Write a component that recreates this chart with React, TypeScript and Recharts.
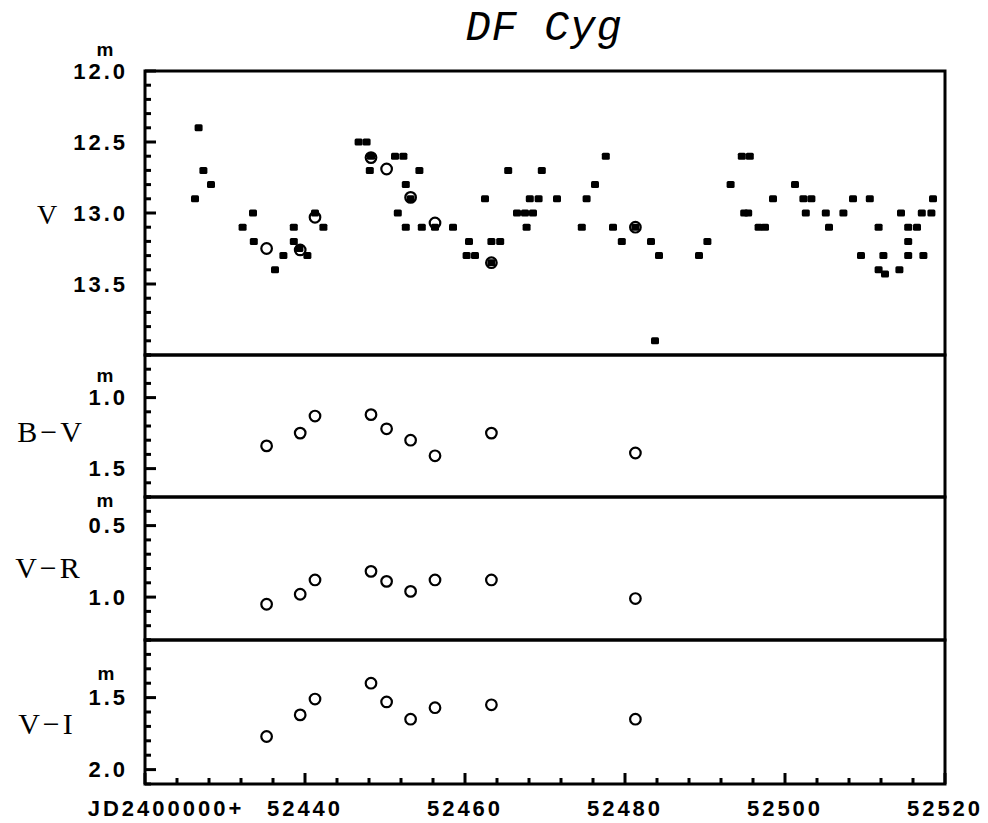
import { ScatterChart, Scatter, XAxis, YAxis, ReferenceArea } from "recharts"

// visual V estimates (filled squares)
const vJd = [
  52426.25, 52426.7, 52427.3, 52428.25, 52432.2, 52433.5, 52433.6, 52436.25, 52437.3, 52438.6,
  52438.6, 52439.3, 52440.3, 52441.25, 52442.3, 52446.7, 52447.7, 52448.25, 52448.1, 52451.25,
  52452.3, 52452.6, 52453.2, 52451.6, 52452.6, 52454.3, 52454.6, 52456.25, 52458.5, 52460.5,
  52460.2, 52461.25, 52462.5, 52463.3, 52464.4, 52463.3, 52465.4, 52466.5, 52467.5, 52468.5,
  52467.7, 52468.1, 52469.2, 52469.6, 52471.5, 52474.6, 52475.2, 52476.25, 52477.6, 52478.5,
  52479.6, 52481.3, 52483.25, 52483.75, 52484.25, 52489.25, 52490.3, 52493.2, 52494.6, 52495.6,
  52494.9, 52495.4, 52496.7, 52497.5, 52498.5, 52501.25, 52502.3, 52503.3, 52502.6, 52505.1,
  52505.5, 52507.3, 52508.5, 52509.5, 52510.6, 52511.7, 52511.7, 52512.3, 52512.5, 52514.3,
  52514.5, 52515.4, 52515.4, 52515.4, 52516.5, 52517.1, 52517.3, 52518.3, 52518.5,
]
const vMag = [
  12.9, 12.4, 12.7, 12.8, 13.1, 13.0, 13.2, 13.4, 13.3, 13.1,
  13.2, 13.25, 13.3, 13.0, 13.1, 12.5, 12.5, 12.6, 12.7, 12.6,
  12.6, 12.8, 12.9, 13.0, 13.1, 12.7, 13.1, 13.1, 13.1, 13.2,
  13.3, 13.3, 12.9, 13.2, 13.2, 13.35, 12.7, 13.0, 13.0, 13.0,
  13.1, 12.9, 12.9, 12.7, 12.9, 13.1, 12.9, 12.8, 12.6, 13.1,
  13.2, 13.1, 13.2, 13.9, 13.3, 13.3, 13.2, 12.8, 12.6, 12.6,
  13.0, 13.0, 13.1, 13.1, 12.9, 12.8, 12.9, 12.9, 13.0, 13.0,
  13.1, 13.0, 12.9, 13.3, 12.9, 13.1, 13.4, 13.3, 13.43, 13.4,
  13.0, 13.1, 13.2, 13.3, 13.1, 13.0, 13.3, 13.0, 12.9,
]

// photoelectric nights (open circles)
const photJd = [52435.2, 52439.4, 52441.25, 52448.25, 52450.2, 52453.2, 52456.25, 52463.3, 52481.3]
const photV = [13.25, 13.26, 13.03, 12.61, 12.69, 12.89, 13.07, 13.35, 13.1]
const bvMag = [1.34, 1.25, 1.13, 1.12, 1.22, 1.3, 1.41, 1.25, 1.39]
const vrMag = [1.05, 0.98, 0.88, 0.82, 0.89, 0.96, 0.88, 0.88, 1.01]
const viMag = [1.77, 1.62, 1.51, 1.4, 1.53, 1.65, 1.57, 1.55, 1.65]

const xTicks = [
  52420, 52424, 52428, 52432, 52436, 52440, 52444, 52448, 52452, 52456, 52460, 52464, 52468,
  52472, 52476, 52480, 52484, 52488, 52492, 52496, 52500, 52504, 52508, 52512, 52516, 52520,
]
const xMajor = [52420, 52440, 52460, 52480, 52500, 52520]
const xLabels = ["JD2400000+", "52440", "52460", "52480", "52500", "52520"]

const vTicks = [
  12.0, 12.1, 12.2, 12.3, 12.4, 12.5, 12.6, 12.7, 12.8, 12.9, 13.0,
  13.1, 13.2, 13.3, 13.4, 13.5, 13.6, 13.7, 13.8, 13.9, 14.0,
]
const vMajor = [12.0, 12.5, 13.0, 13.5]
const vLabels = ["12.0", "12.5", "13.0", "13.5"]

const bvTicks = [0.7, 0.8, 0.9, 1.0, 1.1, 1.2, 1.3, 1.4, 1.5, 1.6, 1.7]
const bvMajor = [1.0, 1.5]
const bvLabels = ["1.0", "1.5"]

const vrTicks = [0.3, 0.4, 0.5, 0.6, 0.7, 0.8, 0.9, 1.0, 1.1, 1.2, 1.3]
const vrMajor = [0.5, 1.0]
const vrLabels = ["0.5", "1.0"]

const viTicks = [1.1, 1.2, 1.3, 1.4, 1.5, 1.6, 1.7, 1.8, 1.9, 2.0, 2.1]
const viMajor = [1.5, 2.0]
const viLabels = ["1.5", "2.0"]

const W = 988
const H = 823
const sans = "'Liberation Sans', Arial, sans-serif"
const serif = "'Liberation Serif', 'Times New Roman', serif"
const tickFont = { fontFamily: sans, fontWeight: 700, fontSize: 22, letterSpacing: 3 }

const pts = (xs: number[], ys: number[]) => xs.map((x, i) => ({ x, y: ys[i] }))

const Filled = (p: any) => <rect x={p.cx - 4} y={p.cy - 3.5} width={8} height={7} rx={1.5} fill="#000" />
const Open = (p: any) => (
  <circle cx={p.cx} cy={p.cy} r={5.3} fill="none" stroke="#000" strokeWidth={2.2} />
)

function makeTick(side: string, major: number[], labels?: string[]) {
  return (props: any) => {
    const { x, y, payload } = props
    const idx = major.findIndex((m) => Math.abs(m - payload.value) < 1e-6)
    const len = idx >= 0 ? 11 : 6
    let x2 = x
    let y2 = y
    if (side === "left") x2 = x + len
    if (side === "right") x2 = x - len
    if (side === "top") y2 = y + len
    if (side === "bottom") y2 = y - len
    let label = null
    if (labels && idx >= 0) {
      if (side === "left") {
        label = (
          <text x={x - 17} y={y} textAnchor="end" dominantBaseline="central" fill="#000" style={tickFont}>
            {labels[idx]}
          </text>
        )
      } else if (side === "bottom") {
        label = (
          <text x={idx === 0 ? x + 21 : x} y={y + 24} textAnchor="middle" dominantBaseline="central" fill="#000" style={tickFont}>
            {labels[idx]}
          </text>
        )
      }
    }
    return (
      <g>
        <line x1={x} y1={y} x2={x2} y2={y2} stroke="#000" strokeWidth={3} />
        {label}
      </g>
    )
  }
}

type PanelProps = {
  top: number
  bottom: number
  domain: [number, number]
  ticks: number[]
  major: number[]
  labels: string[]
  filled?: { x: number; y: number }[]
  open: { x: number; y: number }[]
  topAxis?: boolean
  bottomAxis?: boolean
}

function Panel(p: PanelProps) {
  const margin = {
    top: p.topAxis ? p.top - 10 : p.top,
    bottom: p.bottomAxis ? H - p.bottom - 40 : H - p.bottom,
    left: 85,
    right: 3,
  }
  return (
    <div style={{ position: "absolute", left: 0, top: 0 }}>
      <ScatterChart width={W} height={H} margin={margin}>
        <XAxis
          dataKey="x"
          type="number"
          domain={[52420, 52520]}
          ticks={xTicks}
          interval={0}
          hide={!p.bottomAxis}
          height={40}
          axisLine={false}
          tickLine={false}
          tickSize={0}
          tickMargin={0}
          tick={makeTick("bottom", xMajor, xLabels)}
        />
        {p.topAxis && (
          <XAxis
            xAxisId="t"
            orientation="top"
            dataKey="x"
            type="number"
            domain={[52420, 52520]}
            ticks={xTicks}
            interval={0}
            height={10}
            axisLine={false}
            tickLine={false}
            tickSize={0}
            tickMargin={0}
            tick={makeTick("top", xMajor)}
          />
        )}
        <YAxis
          dataKey="y"
          type="number"
          domain={p.domain}
          reversed
          ticks={p.ticks}
          interval={0}
          width={60}
          axisLine={false}
          tickLine={false}
          tickSize={0}
          tickMargin={0}
          tick={makeTick("left", p.major, p.labels)}
        />
        <YAxis
          yAxisId="r"
          orientation="right"
          dataKey="y"
          type="number"
          domain={p.domain}
          reversed
          ticks={p.ticks}
          interval={0}
          width={40}
          axisLine={false}
          tickLine={false}
          tickSize={0}
          tickMargin={0}
          tick={makeTick("right", p.major)}
        />
        <ReferenceArea
          x1={52420}
          x2={52520}
          y1={p.domain[0]}
          y2={p.domain[1]}
          fill="none"
          fillOpacity={0}
          stroke="#000"
          strokeWidth={3}
          ifOverflow="visible"
        />
        {p.filled && <Scatter data={p.filled} shape={Filled} isAnimationActive={false} />}
        <Scatter data={p.open} shape={Open} isAnimationActive={false} />
      </ScatterChart>
    </div>
  )
}

export default function App() {
  const lab = { fontFamily: serif, fontSize: 30, fill: "#000" }
  const m = { fontFamily: sans, fontWeight: 700, fontSize: 19, fill: "#000" }
  return (
    <div style={{ position: "absolute", left: 0, top: 0, width: W, height: H, background: "#fff" }}>
      <Panel
        top={71}
        bottom={355}
        domain={[12, 14]}
        ticks={vTicks}
        major={vMajor}
        labels={vLabels}
        filled={pts(vJd, vMag)}
        open={pts(photJd, photV)}
        topAxis
      />
      <Panel top={355} bottom={497} domain={[0.7, 1.7]} ticks={bvTicks} major={bvMajor} labels={bvLabels} open={pts(photJd, bvMag)} />
      <Panel top={497} bottom={640} domain={[0.3, 1.3]} ticks={vrTicks} major={vrMajor} labels={vrLabels} open={pts(photJd, vrMag)} />
      <Panel
        top={640}
        bottom={784}
        domain={[1.1, 2.1]}
        ticks={viTicks}
        major={viMajor}
        labels={viLabels}
        open={pts(photJd, viMag)}
        bottomAxis
      />
      <svg width={W} height={H} style={{ position: "absolute", left: 0, top: 0, pointerEvents: "none" }}>
        <text
          x={544}
          y={40}
          textAnchor="middle"
          style={{ fontFamily: "'Liberation Mono', 'Courier New', monospace", fontStyle: "italic", fontSize: 42, letterSpacing: 1 }}
          fill="#000"
        >
          DF Cyg
        </text>
        <text x={105} y={49} textAnchor="middle" dominantBaseline="central" style={m}>m</text>
        <text x={105} y={375} textAnchor="middle" dominantBaseline="central" style={m}>m</text>
        <text x={105} y={500} textAnchor="middle" dominantBaseline="central" style={m}>m</text>
        <text x={106} y={673} textAnchor="middle" dominantBaseline="central" style={m}>m</text>
        <text x={47} y={214} textAnchor="middle" dominantBaseline="central" style={{ ...lab, fontSize: 28 }}>V</text>
        <text x={51} y={431} textAnchor="middle" dominantBaseline="central" style={{ ...lab, letterSpacing: 3 }}>B−V</text>
        <text x={49} y={567} textAnchor="middle" dominantBaseline="central" style={{ ...lab, letterSpacing: 3 }}>V−R</text>
        <text x={47} y={723} textAnchor="middle" dominantBaseline="central" style={{ ...lab, letterSpacing: 3 }}>V−I</text>
      </svg>
    </div>
  )
}
